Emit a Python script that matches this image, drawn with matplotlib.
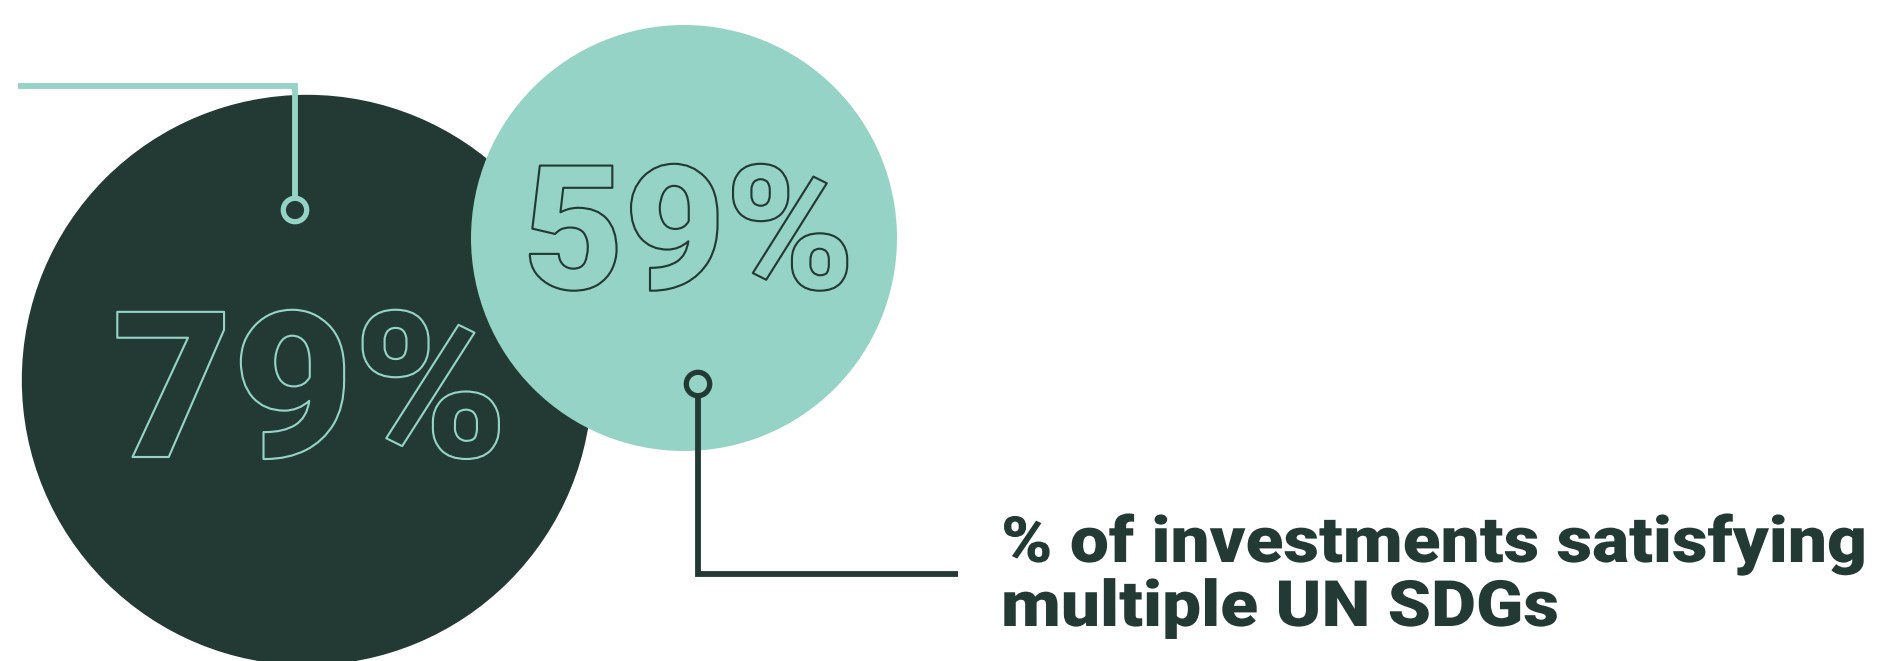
import matplotlib
matplotlib.use("Agg")
import matplotlib.pyplot as plt
from matplotlib.patches import Circle
from matplotlib.transforms import Affine2D
import matplotlib.patheffects as pe

# ---- data ----
values = [79, 59]
value_labels = ["79%", "59%"]
label_lines = ["% of investments satisfying", "multiple UN SDGs"]

DARK = "#233A34"
LIGHT = "#94D3C5"

W, H = 1886, 661
fig = plt.figure(figsize=(W / 100, H / 100), dpi=100)
ax = fig.add_axes([0, 0, 1, 1])
ax.set_xlim(0, W)
ax.set_ylim(H, 0)
ax.set_aspect("equal")
ax.axis("off")


class Tracked(pe.AbstractPathEffect):
    """Widen the drawn text horizontally about its anchor (emulates wide tracking)."""

    def __init__(self, sx, x_anchor, stroke_lw=None, stroke_color=None):
        super().__init__()
        self.sx = sx
        self.x_anchor = x_anchor
        self.stroke_lw = stroke_lw
        self.stroke_color = stroke_color

    def draw_path(self, renderer, gc, tpath, affine, rgbFace=None):
        x0 = ax.transData.transform((self.x_anchor, 0))[0]
        aff = affine + Affine2D().translate(-x0, 0).scale(self.sx, 1).translate(x0, 0)
        if self.stroke_lw is not None:
            gc0 = renderer.new_gc()
            gc0.copy_properties(gc)
            gc0.set_linewidth(renderer.points_to_pixels(self.stroke_lw))
            gc0.set_foreground(self.stroke_color)
            renderer.draw_path(gc0, tpath, aff, None)
            gc0.restore()
        else:
            renderer.draw_path(gc, tpath, aff, rgbFace)


scale = 3.61  # px of radius per percentage point
centers = [(307, 380), (684, 238)]
fills = [DARK, LIGHT]
outline = [LIGHT, DARK]
font_sizes = [147, 125]
text_pos = [(310, 457), (689, 289)]
stretch = [1.02, 1.005]

for i, v in enumerate(values):
    ax.add_patch(Circle(centers[i], v * scale, facecolor=fills[i], edgecolor="none", zorder=1 + i))
    t = ax.text(text_pos[i][0], text_pos[i][1], value_labels[i], fontsize=font_sizes[i],
                family="Roboto", fontweight="black", color="none", ha="center", va="baseline",
                zorder=5 + i)
    t.set_path_effects([Tracked(stretch[i], text_pos[i][0], stroke_lw=1.1, stroke_color=outline[i])])

lw = 4.2
ring_lw = 3.8
ring_r = 11.7
# connector for the dark circle (light colour)
ax.plot([18, 295, 295], [86, 86, 210], color=LIGHT, lw=lw, solid_capstyle="butt",
        solid_joinstyle="miter", zorder=10)
ax.add_patch(Circle((295, 210), ring_r, facecolor=DARK, edgecolor=LIGHT, lw=ring_lw, zorder=11))

# connector for the light circle (dark colour)
ax.plot([698, 698, 958], [384, 574, 574], color=DARK, lw=lw, solid_capstyle="butt",
        solid_joinstyle="miter", zorder=10)
ax.add_patch(Circle((698, 384), ring_r, facecolor=LIGHT, edgecolor=DARK, lw=ring_lw, zorder=11))

label_x = 1001
baselines = [562, 626]
for line, yb in zip(label_lines, baselines):
    t = ax.text(label_x, yb, line, fontsize=46, family="Roboto", fontweight="black",
                color=DARK, ha="left", va="baseline", zorder=12)
    t.set_path_effects([Tracked(1.087, label_x)])

fig.savefig("out.png", dpi=100, facecolor="white")
